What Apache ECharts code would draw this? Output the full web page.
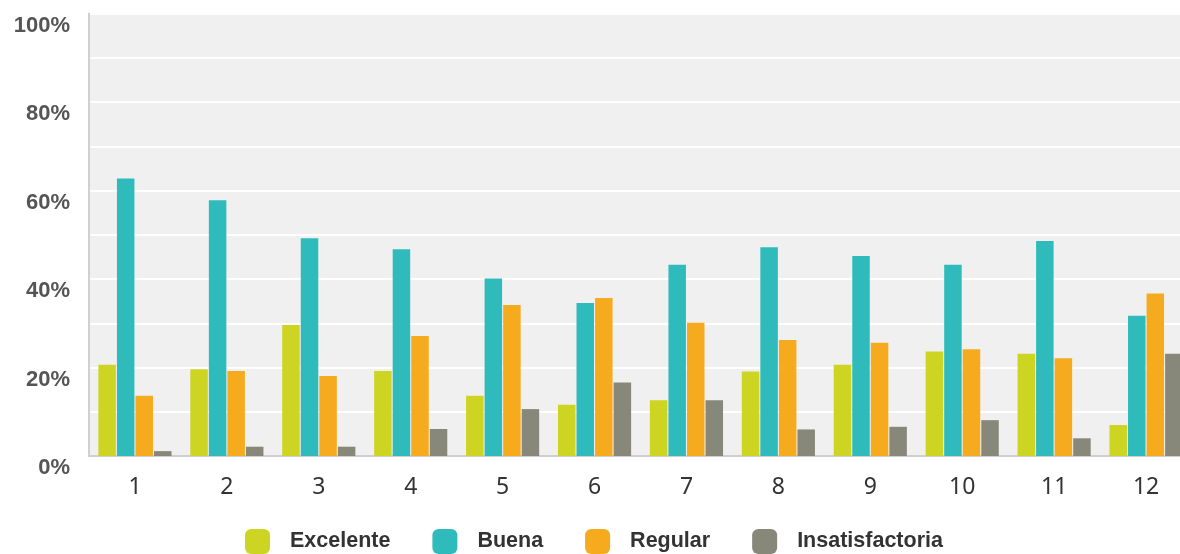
<!DOCTYPE html>
<html>
<head>
<meta charset="utf-8">
<script src="https://cdn.jsdelivr.net/npm/echarts@6/dist/echarts.min.js"></script>
<style>html,body{margin:0;padding:0;background:#fff;overflow:hidden;width:1180px;height:554px}#c{width:1200px;height:554px}</style>
</head>
<body>
<div id="c"></div>
<script>
const categories = ['1','2','3','4','5','6','7','8','9','10','11','12'];
const excelente = [20.6, 19.6, 29.6, 19.2, 13.6, 11.6, 12.6, 19.1, 20.6, 23.6, 23.1, 7.0];
const buena = [62.7, 57.8, 49.2, 46.7, 40.1, 34.6, 43.2, 47.2, 45.2, 43.2, 48.6, 31.7];
const regular = [13.6, 19.2, 18.1, 27.1, 34.1, 35.7, 30.1, 26.2, 25.6, 24.1, 22.1, 36.7];
const insatisfactoria = [1.1, 2.1, 2.1, 6.1, 10.6, 16.6, 12.6, 6.0, 6.6, 8.1, 4.0, 23.1];
const seriesNames = ['Excelente', 'Buena', 'Regular', 'Insatisfactoria'];
const colors = ['#cdd422', '#2fbbbb', '#f6ab1e', '#87887a'];

const chart = echarts.init(document.getElementById('c'));
const dataSets = [excelente, buena, regular, insatisfactoria];
chart.setOption({
  animation: false,
  color: colors,
  grid: {
    left: 89, right: 8, top: 13.5, bottom: 98,
    show: true, backgroundColor: '#f0f0f0', borderWidth: 0
  },
  legend: {
    data: seriesNames,
    left: 245,
    top: 529,
    padding: 0,
    icon: 'roundRect',
    itemWidth: 25,
    itemHeight: 25,
    itemGap: 42,
    textStyle: {
      fontFamily: 'Liberation Sans',
      fontWeight: 'bold',
      fontSize: 21.5,
      color: '#333',
      padding: [0, 0, 0, 15]
    }
  },
  xAxis: {
    type: 'category',
    data: categories,
    axisLine: { show: true, lineStyle: { color: '#cfcfcf', width: 2 } },
    axisTick: { show: false },
    axisLabel: {
      margin: 20,
      fontFamily: 'Noto Sans',
      fontSize: 23,
      color: '#333'
    },
    splitLine: { show: false }
  },
  yAxis: {
    type: 'value',
    min: 0, max: 100, interval: 10,
    axisLine: { show: true, lineStyle: { color: '#d0d0d0', width: 2 } },
    axisTick: { show: false },
    splitLine: { show: true, lineStyle: { color: '#ffffff', width: 2 } },
    axisLabel: {
      margin: 19,
      fontFamily: 'Liberation Sans',
      fontWeight: 'bold',
      fontSize: 22,
      color: '#555',
      verticalAlign: 'top',
      lineHeight: 22,
      padding: [1, 0, 0, 0],
      formatter: function (v) { return v % 20 === 0 ? v + '%' : ''; }
    }
  },
  series: seriesNames.map(function (n, i) {
    return {
      name: n,
      type: 'bar',
      data: dataSets[i],
      barWidth: 17.5,
      barGap: '6%'
    };
  })
});
</script>
</body>
</html>
